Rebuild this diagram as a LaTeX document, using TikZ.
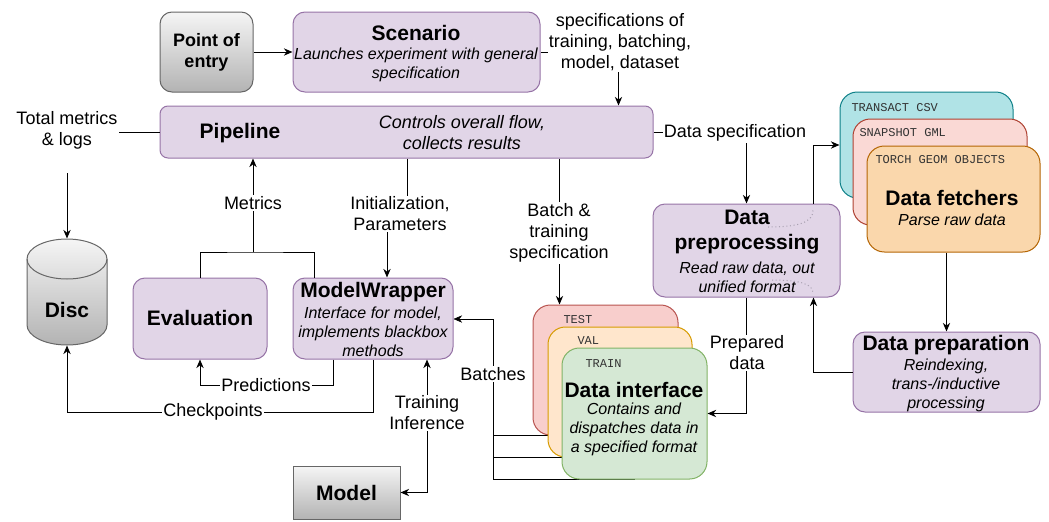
\documentclass[tikz,border=0pt]{standalone}
\usepackage{fontspec}
\setmainfont{Liberation Sans}
\setmonofont{Liberation Mono}
\usetikzlibrary{arrows.meta,fit,backgrounds}
\definecolor{stagefill}{HTML}{E1D5E7}
\definecolor{stageline}{HTML}{9673A6}
\definecolor{entrytop}{HTML}{F5F5F5}
\definecolor{entrybot}{HTML}{B3B3B3}
\definecolor{entryline}{HTML}{666666}
\definecolor{csvfill}{HTML}{B0E3E6}
\definecolor{csvline}{HTML}{0E8088}
\definecolor{gmlfill}{HTML}{FAD9D5}
\definecolor{gmlline}{HTML}{AE4132}
\definecolor{torchfill}{HTML}{FAD7AC}
\definecolor{torchline}{HTML}{B46504}
\definecolor{testfill}{HTML}{F8CECC}
\definecolor{testline}{HTML}{B85450}
\definecolor{valfill}{HTML}{FFE6CC}
\definecolor{valline}{HTML}{D79B00}
\definecolor{trainfill}{HTML}{D5E8D4}
\definecolor{trainline}{HTML}{82B366}
\definecolor{tagcolor}{HTML}{333333}
\definecolor{dotcolor}{HTML}{A8A0B0}
\tikzstyle{stage} = [rectangle, rounded corners=9pt, draw=stageline, fill=stagefill, inner sep=0pt]
\tikzstyle{entry} = [rectangle, rounded corners=9pt, draw=entryline, top color=entrytop, bottom color=entrybot, inner sep=0pt]
\tikzstyle{sheet} = [rectangle, rounded corners=13pt, inner sep=0pt]
\tikzstyle{headtxt} = [align=center, inner sep=0pt, font=\fontsize{15.75}{18.75}\selectfont\bfseries]
\tikzstyle{subtxt} = [align=center, inner sep=0pt, font=\fontsize{12}{14.25}\selectfont\itshape]
\tikzstyle{tagtxt} = [anchor=west, inner sep=0pt, text=tagcolor, font=\fontsize{9}{11}\selectfont\ttfamily]
\tikzstyle{lbl} = [align=center, fill=white, inner sep=1pt, font=\fontsize{13.5}{15.75}\selectfont]

\begin{document}
\begin{tikzpicture}[x=0.75pt, y=-0.75pt, line width=0.75pt, >={Stealth[length=6.5pt, width=5.5pt]}]
    \useasboundingbox (0,0) rectangle (1049,521);
    \node (poe)   [entry, fit={(160,12) (253,92)}] {};
    \node (scen)  [stage, fit={(293,12) (540,92)}] {};
    \node (pipe)  [stage, rounded corners=6pt, fit={(160,106) (653,158)}] {};
    \node (eval)  [stage, fit={(133,278) (267,359)}] {};
    \node (mw)    [stage, fit={(293,278) (453,359)}] {};
    \node (model) [entry, sharp corners, fit={(293,466) (400,519)}] {};
    \node (prep)  [stage, fit={(653,204) (840,297)}] {};
    \node (dprep) [stage, fit={(853,332) (1040,412)}] {};
    \node (csv)   [sheet, draw=csvline, fill=csvfill, fit={(840,92) (1013,198)}] {};
    \node (gml)   [sheet, draw=gmlline, fill=gmlfill, fit={(853,119) (1027,225)}] {};
    \node (torch) [sheet, draw=torchline, fill=torchfill, fit={(867,146) (1040,252)}] {};
    \node (test)  [sheet, draw=testline, fill=testfill, fit={(533,305) (678,435)}] {};
    \node (val)   [sheet, draw=valline, fill=valfill, fit={(548,327) (692,457)}] {};
    \node (train) [sheet, draw=trainline, fill=trainfill, fit={(562,348) (707,479)}] {};
    \node (disc)  [inner sep=0pt, fit={(27,239) (107,345)}] {};
    \path[draw=entryline, top color=entrytop, bottom color=entrybot] (27,259) -- (27,325)
        arc[start angle=180, end angle=360, x radius=30pt, y radius=15pt] -- (107,259)
        arc[start angle=0, end angle=180, x radius=30pt, y radius=15pt] -- cycle;
    \draw[entryline] (27,259) arc[start angle=180, end angle=360, x radius=30pt, y radius=15pt];

    \node (poetxt)    [headtxt, font=\fontsize{13.5}{15.75}\selectfont\bfseries] at (poe.center) {Point of\\entry};
    \node (scenhead)  [headtxt] at (416,33) {Scenario};
    \node (scensub)   [subtxt] at (416,65) {Launches experiment with general\\specification};
    \node (pipehead)  [headtxt] at (240,133) {Pipeline};
    \node (pipesub)   [subtxt, font=\fontsize{13.5}{15.75}\selectfont\itshape] at (462,133) {Controls overall flow,\\collects results};
    \node (evalhead)  [headtxt] at (200,318) {Evaluation};
    \node (mwhead)    [headtxt] at (373,292) {ModelWrapper};
    \node (mwsub)     [subtxt] at (373,332) {Interface for model,\\implements blackbox\\methods};
    \node (modelhead) [headtxt] at (model.center) {Model};
    \node (dischead)  [headtxt] at (67,310) {Disc};
    \node (prephead)  [headtxt] at (747,232) {Data\\preprocessing};
    \node (prepsub)   [subtxt] at (747,277) {Read raw data, out\\unified format};
    \node (csvtag)    [tagtxt] at (851,108) {TRANSACT CSV};
    \node (gmltag)    [tagtxt] at (859,133) {SNAPSHOT GML};
    \node (torchtag)  [tagtxt] at (875,160) {TORCH GEOM OBJECTS};
    \node (fetchhead) [headtxt] at (952,198) {Data fetchers};
    \node (fetchsub)  [subtxt] at (952,220) {Parse raw data};
    \node (dprephead) [headtxt] at (946,345) {Data preparation};
    \node (dprepsub)  [subtxt] at (946,385) {Reindexing,\\trans-/inductive\\processing};
    \node (testtag)   [tagtxt] at (563,320) {TEST};
    \node (valtag)    [tagtxt] at (577,341) {VAL};
    \node (traintag)  [tagtxt] at (585,364) {TRAIN};
    \node (trainhead) [headtxt] at (634,390) {Data interface};
    \node (trainsub)  [subtxt] at (634,429) {Contains and\\dispatches data in\\a specified format};

    \draw[dotted, dotcolor] (768,227) .. controls (800,227) and (813,222) .. (813,210);
    \draw[dotted, dotcolor] (772,280) .. controls (800,280) and (813,284) .. (813,293);

    \draw[->] (poe) -- (scen);
    \draw[->] (scen.east) -| ([xshift=-26.25pt]pipe.north east);
    \draw[->] (pipe.east) -| (prep.north);
    \draw[->] (pipe.west) -| (disc.north);
    \draw[->] ([xshift=-20.25pt]prep.north east) |- (csv.west);
    \draw[->] (torch.south -| dprep.north) -- (dprep.north);
    \draw[->] (dprep.west) -| ([xshift=-20.25pt]prep.south east);
    \draw[->] (prep.south) |- (train.east);
    \draw[->] ([xshift=20.25pt]test.north west |- pipe.south) -- ([xshift=20.25pt]test.north west);
    \draw[->] ([xshift=25.5pt]mw.north |- pipe.south) -- ++(0,56) -| ([xshift=10.5pt]mw.north);
    \coordinate (mjoin) at (253,252);
    \draw (eval.north) |- (mjoin) -| ([xshift=16.5pt]mw.north west);
    \draw[->] (mjoin) -- (mjoin |- pipe.south);
    \coordinate (bjoin) at (493,319);
    \begin{scope}[on background layer]
        \draw (test.south) -- (test.south -| bjoin);
        \draw (val.south) -- (val.south -| bjoin);
        \draw[->] (train.south) -| (bjoin) -- (mw.east |- bjoin);
    \end{scope}
    \draw[->] ([xshift=-30pt]mw.south) -- ++(0,26) -| (eval.south);
    \draw[->] (mw.south) -- ++(0,53) -| (disc.south);
    \draw[<->] (model.east) -| ([xshift=40.5pt]mw.south);

    \node (speclbl)    [lbl] at (620,42) {specifications of\\training, batching,\\model, dataset};
    \node (dslbl)      [lbl] at (735,133) {Data specification};
    \node (totlbl)     [lbl, inner ysep=18pt] at (67,130) {Total metrics\\\& logs};
    \node (metlbl)     [lbl] at (253,203) {Metrics};
    \node (initlbl)    [lbl] at (400,214) {Initialization,\\Parameters};
    \node (batchlbl)   [lbl] at (559,233) {Batch \&\\training\\specification};
    \node (batcheslbl) [lbl] at (493,374) {Batches};
    \node (preplbl)    [lbl] at (747,353) {Prepared\\data};
    \node (predlbl)    [lbl] at (266,385) {Predictions};
    \node (ckptlbl)    [lbl] at (213,412) {Checkpoints};
    \node (trainlbl)   [lbl] at (427,413) {Training\\Inference};
\end{tikzpicture}
\end{document}
